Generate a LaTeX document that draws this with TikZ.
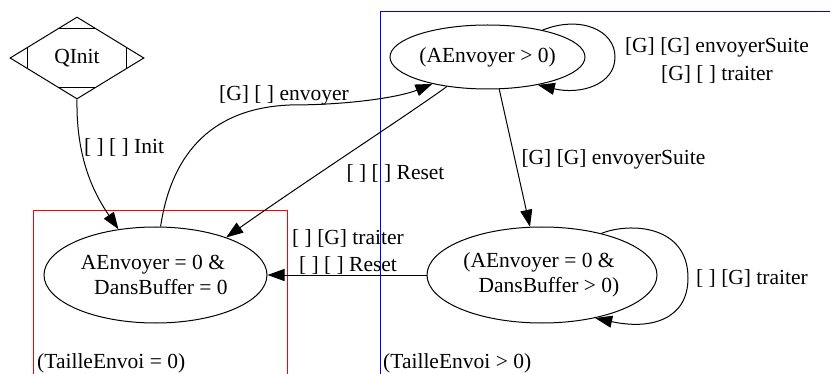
\documentclass[tikz,border=0pt]{standalone}
\usepackage{fontspec}
\setmainfont{Liberation Serif}
\usetikzlibrary{shapes.geometric,arrows.meta,calc}
\tikzset{
  every node/.style={font=\fontsize{21.5}{25}\selectfont},
  state/.style={draw, ellipse, line width=1pt, inner sep=0pt, align=center},
  lbl/.style={inner sep=0pt, align=center},
  edge/.style={line width=1pt, -{Triangle[length=17pt,width=12pt]}},
}
\begin{document}
\begin{tikzpicture}[x=1pt,y=-1pt]
\useasboundingbox (0,0) rectangle (830,374);
% clusters
\draw[red, line width=1pt] (33,380) -- (33,211) -- (287,211) -- (287,380);
\draw[blue, line width=1pt] (380,380) -- (380,12) -- (840,12);
\node[lbl, anchor=west] (t0) at (37,363) {(TailleEnvoi = 0)};
\node[lbl, anchor=west] (t1) at (383,363) {(TailleEnvoi > 0)};
% nodes
\node[draw, diamond, line width=1pt, minimum width=134pt, minimum height=82pt, inner sep=0pt] (Q) at (77,58) {QInit};
\draw[line width=1pt] ($(Q.north)+(-19,12)$) -- ($(Q.north)+(19,12)$);
\draw[line width=1pt] ($(Q.south)+(-19,-12)$) -- ($(Q.south)+(19,-12)$);
\draw[line width=1pt] ($(Q.west)+(18,-11)$) -- ($(Q.west)+(18,11)$);
\draw[line width=1pt] ($(Q.east)+(-18,-11)$) -- ($(Q.east)+(18,11)+(-36,0)$);
\node[state, minimum width=223pt, minimum height=96pt] (A) at (155.5,275)
  {AEnvoyer = 0 \&\rule{5pt}{0pt}\\\rule{11pt}{0pt}DansBuffer = 0};
\node[state, minimum width=195pt, minimum height=64pt] (B) at (487.5,57) {(AEnvoyer > 0)};
\node[state, minimum width=230pt, minimum height=96pt] (C) at (542,275)
  {(AEnvoyer = 0 \&\rule{6pt}{0pt}\\\rule{14pt}{0pt}DansBuffer > 0)};
% edges
\draw[edge] (Q.south) .. controls (76,160) and (95,195) .. (A.129);
\node[lbl] (l1) at (124,147) {[ ] [ ] Init};
\draw[edge] (A.84) .. controls (172,150) and (215,108) .. (290,105)
  .. controls (350,105) and (400,97) .. (B.206.6);
\node[lbl] (l2) at (284,95) {[G] [ ] envoyer};
\draw[edge] (B.216.9) .. controls (415,110) and (300,185) .. (A.28.5);
\node[lbl] (l3) at (395.5,173) {[ ] [ ] Reset};
\draw[edge] (B.290) -- (C.104);
\node[lbl] (l4) at (613.5,159) {[G] [G] envoyerSuite};
\draw[edge] (B.26.6) .. controls (580,15) and (615,30) .. (615,57)
  .. controls (615,85) and (580,95) .. (B.331.7);
\node[lbl] (l5) at (717,60.5) {[G] [G] envoyerSuite\\[3pt][G] [ ] traiter};
\draw[edge] (C.180) -- (A.0);
\node[lbl] (l6) at (348,251.5) {[ ] [G] traiter\\[2pt][ ] [ ] Reset};
\draw[edge] (C.35) .. controls (630,222) and (688,225) .. (688,278)
  .. controls (688,320) and (650,330) .. (C.321.6);
\node[lbl] (l7) at (752,278) {[ ] [G] traiter};
\end{tikzpicture}
\end{document}
